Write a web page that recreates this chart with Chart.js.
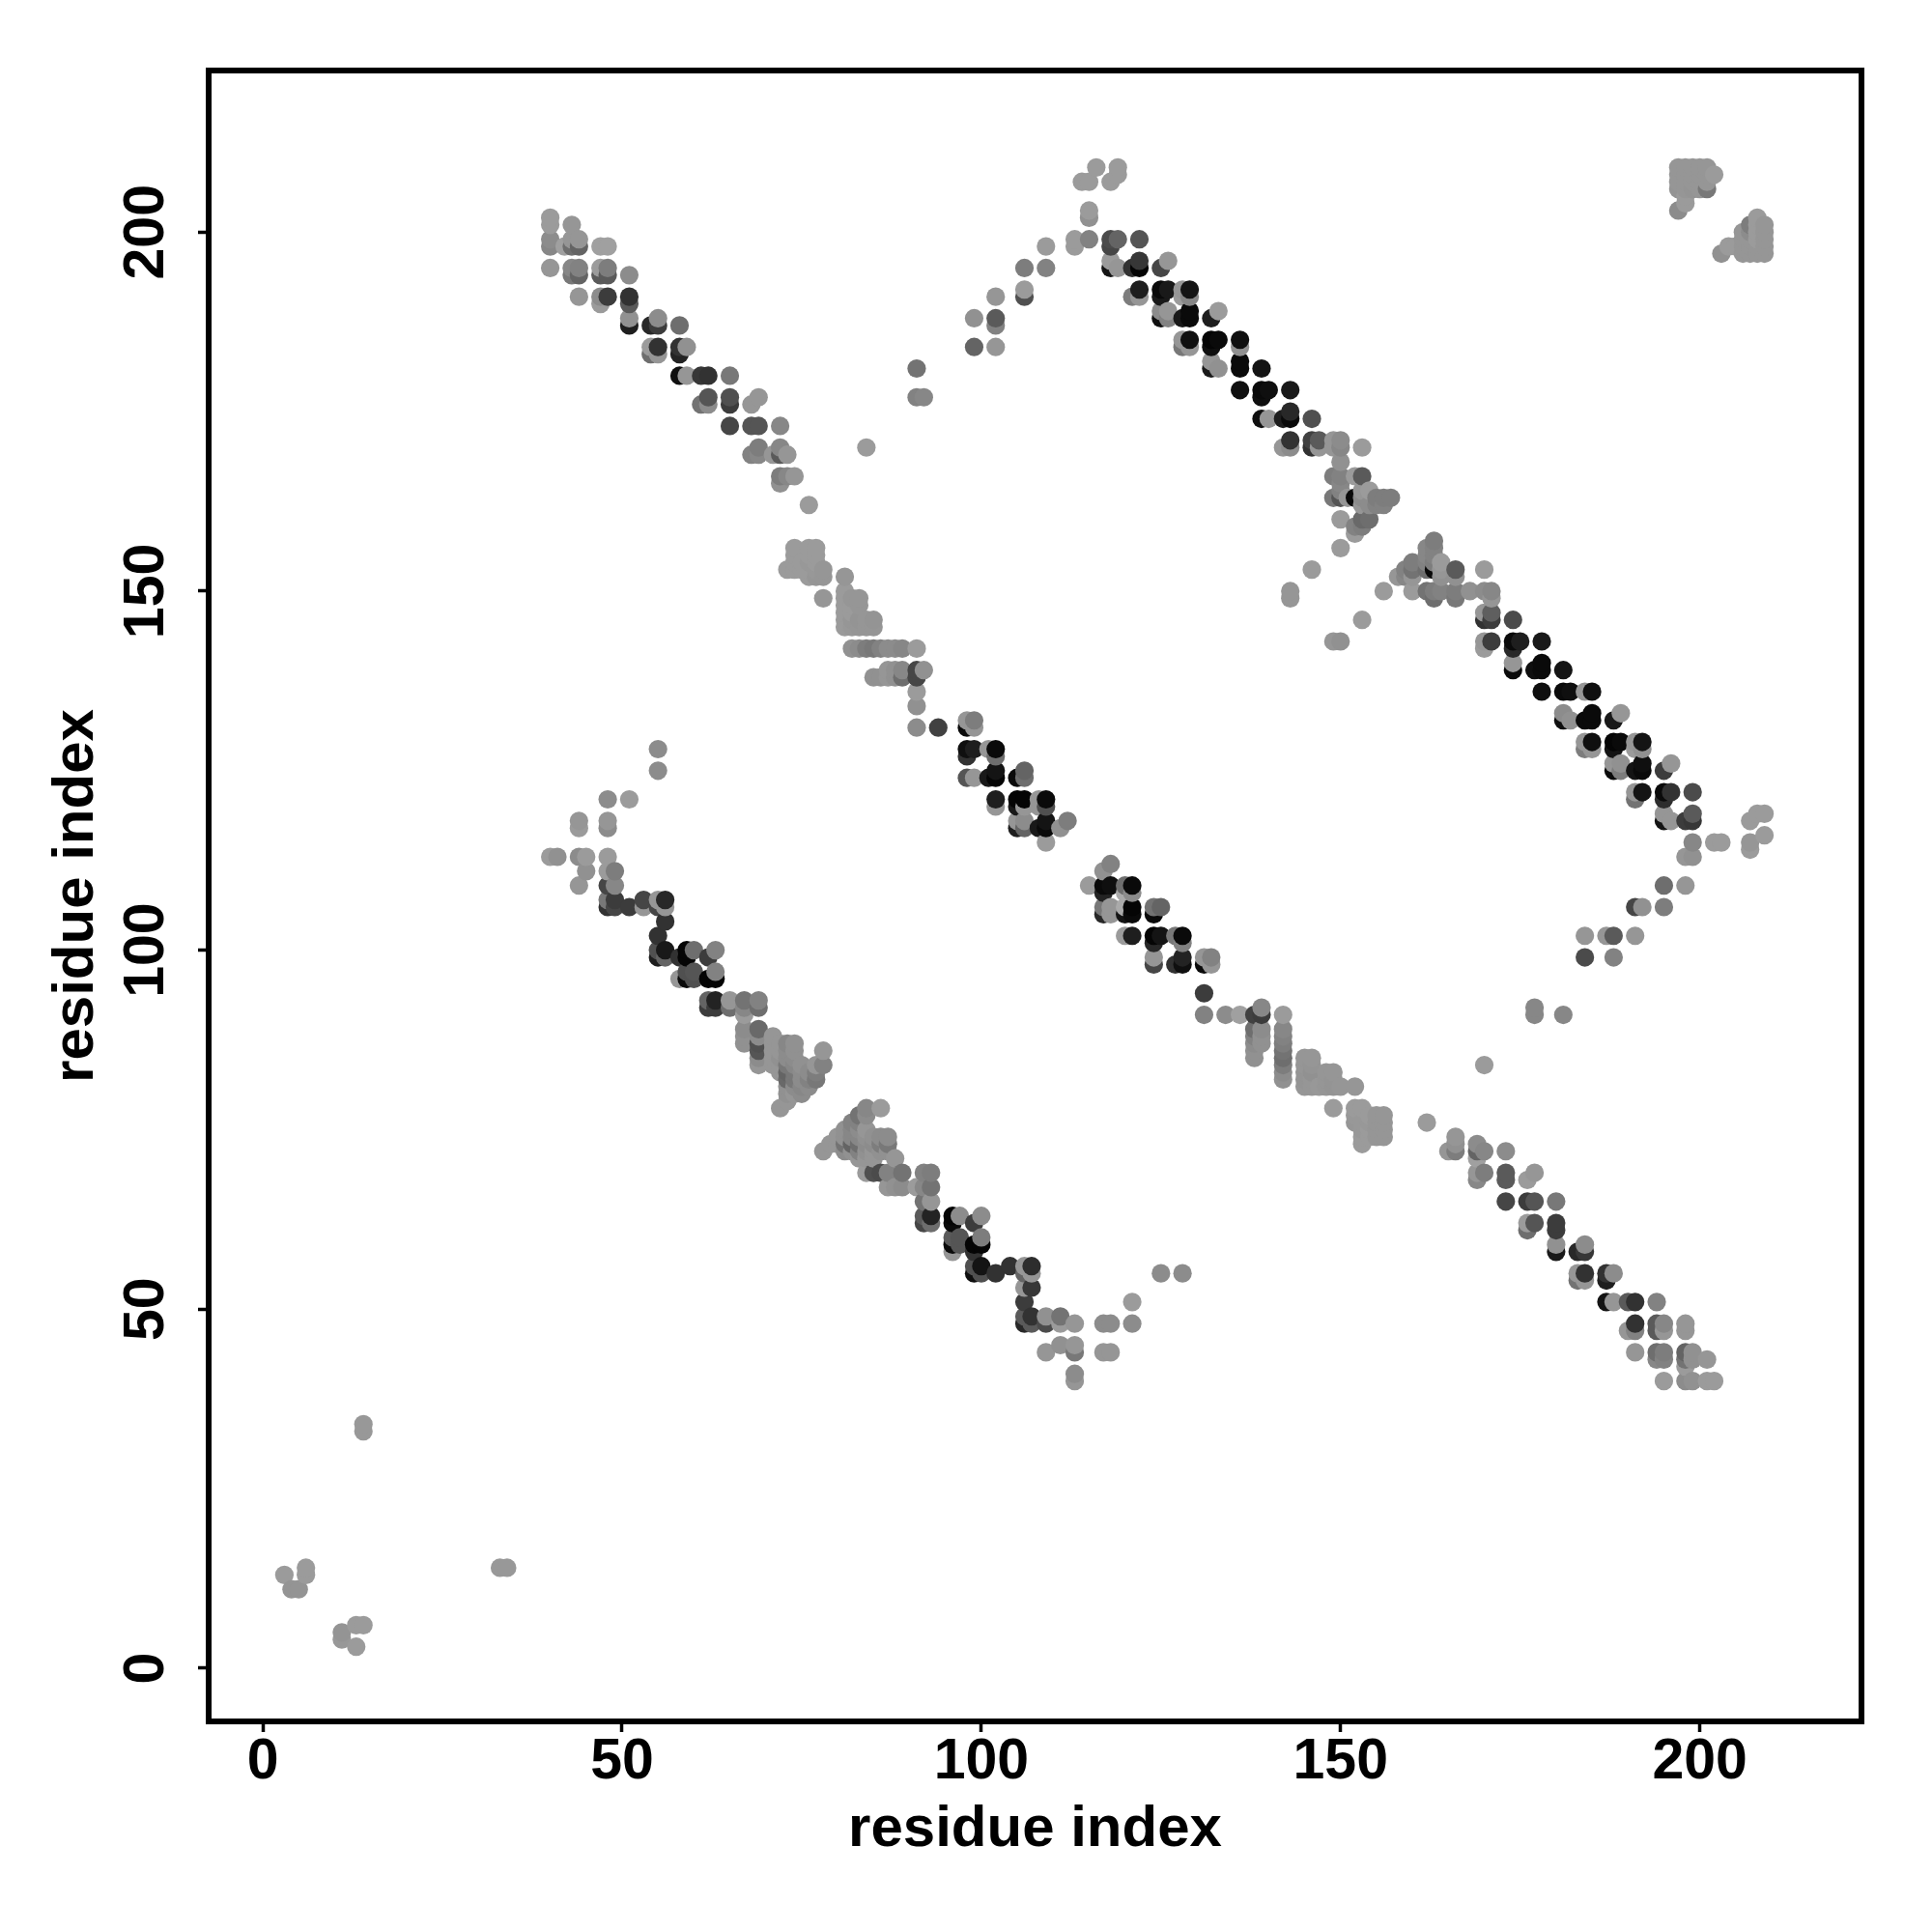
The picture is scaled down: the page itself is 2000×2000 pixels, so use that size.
<!DOCTYPE html>
<html>
<head>
<meta charset="utf-8">
<script src="https://cdn.jsdelivr.net/npm/chart.js@4"></script>
<style>
  html, body { margin: 0; padding: 0; background: #fff; }
  canvas { display: block; }
</style>
</head>
<body>
<canvas id="contactMap" width="2000" height="2000"></canvas>
<script>
// Each contact is [residue x, residue y, grey level]
let cornerContacts = [
  [3,13,155],[4,11,148],[5,11,148],[6,14,155],[6,13,155],[11,5,148],[11,4,152],[13,6,155],[14,6,155],[13,3,155],
  [14,34,152],[14,33,152],[33,14,152],[34,14,152]
];

let upperLeftArm = [
  [40,202,155],[40,201,155],[43,201,150],[40,199,140],[40,198,135],[42,198,160],[43,199,150],[43,198,110],[44,198,100],[44,199,150],
  [47,198,160],[48,198,160],[40,195,150],[43,195,135],[43,194,120],[44,194,100],[44,195,130],
  [47,195,155],[47,194,90],[48,194,90],[48,195,125],[51,194,140],[44,191,150],[47,191,140],[47,190,155],[48,191,60],
  [51,191,50],[51,190,90],[51,188,145],[51,187,30],[54,187,40],[55,187,60],[55,188,140],[58,187,110],
  [54,184,155],[54,183,110],[55,183,150],[55,184,50],[58,184,50],[58,183,35],[59,184,145],
  [58,180,15],[59,180,150],[61,180,55],[62,180,50],[65,180,120],[62,177,85],[61,176,115],[62,176,140],
  [65,177,80],[65,176,60],[68,176,150],[69,177,150],[65,173,70],[68,173,85],[69,173,85],[72,173,135],
  [69,170,125],[68,169,130],[69,169,135],[71,169,150],[72,170,135],[72,169,90],[73,169,150],[84,170,155],
  [72,166,125],[72,165,145],[73,166,135],[74,166,150],[76,162,155],
  [74,156,155],[76,156,155],[77,156,155],[74,155,155],[76,155,155],[77,155,155],[73,153,155],[74,154,155],[74,153,155],
  [75,154,155],[75,153,155],[76,154,152],[76,153,155],[76,152,155],[77,152,150],[77,153,152],[77,154,155],[78,153,150],[78,152,150],[78,149,150]
];

let middleUpperArm = [
  [81,152,150],[81,150,155],[81,149,155],[81,148,155],[81,147,155],[81,146,155],[81,145,155],
  [82,149,150],[82,148,155],[82,147,155],[82,146,150],[82,145,152],[83,149,150],[83,148,150],[83,146,148],[83,145,150],
  [84,146,150],[84,145,150],[85,146,148],[85,145,150],
  [82,142,145],[83,142,140],[84,142,125],[85,142,120],[86,142,130],[87,142,140],[88,142,140],[89,142,135],[91,142,155],
  [85,138,145],[86,138,145],[87,138,150],[88,138,145],[89,138,110],[87,139,150],[88,139,145],[89,139,135],
  [91,139,70],[91,138,70],[92,139,145],[91,136,155],[91,134,145],[91,131,140],[94,131,65],
  [98,132,150],[98,131,10],[99,132,125],[99,131,150],[98,128,15],[99,128,30],[98,127,50],[101,128,150],[102,128,10],[102,127,110],
  [98,124,85],[99,124,150],[101,124,25],[102,125,20],[102,124,5],[105,124,10],[106,124,110],[106,125,100],
  [102,121,30],[102,120,150],[105,121,5],[106,121,5],[105,120,25],[106,120,150],[108,121,150],[109,121,10],[109,120,80],[108,120,150],
  [105,118,150],[106,118,140],[105,117,30],[106,117,100],[108,117,25],[109,118,20],[109,117,10],[109,115,155],[111,117,145],[112,118,125]
];

let middleLowerArm = [
  [118,112,130],[117,111,145],[115,109,155],[117,109,10],[118,109,15],[117,108,35],[120,109,110],[121,109,10],[121,108,140],[120,108,170],
  [117,106,120],[117,105,40],[118,106,150],[118,105,150],[120,106,170],[120,105,20],[121,106,5],[121,105,10],
  [124,106,115],[125,106,100],[124,105,10],[120,102,155],[121,102,30],[124,102,5],[125,102,20],[124,101,40],
  [127,102,120],[128,102,10],[128,101,130],[124,99,150],[124,98,70],[127,98,50],[128,99,35],[128,98,15],
  [131,99,150],[132,99,130],[131,98,10],[132,98,150],[131,94,60],[131,91,130],[134,91,140],[136,91,160],
  [138,91,65],[139,91,60],[139,92,135],[142,91,155],
  [138,89,110],[138,88,130],[138,87,140],[138,86,145],[138,85,145],[139,89,140],[139,88,145],[139,87,145],
  [142,89,135],[142,88,130],[142,87,125],[142,86,115],[142,85,110],[142,84,125],[142,83,140],[142,82,145],
  [145,85,150],[145,84,150],[145,83,148],[145,82,148],[145,81,150],[146,85,150],[146,84,148],[146,83,145],[146,82,150],[146,81,150],
  [147,81,152],[148,83,150],[148,82,150],[148,81,150],[149,83,150],[149,82,148],[149,81,148],[150,81,150],[152,81,150],[149,78,155],
  [152,78,155],[153,78,155],[152,77,152],[152,76,150],[153,76,152],[153,75,152],[153,74,155],[153,73,155],[154,76,152],[154,75,155],
  [154,77,155],[154,74,155],[155,77,150],[155,76,150],[155,75,150],[155,74,150],[156,77,150],[156,76,150],[156,75,150],[156,74,150],
  [162,76,155],[166,74,150],[166,73,145],[166,72,125],[165,72,150],
  [169,73,140],[169,72,100],[169,71,160],[170,72,135],[173,72,140],[169,69,150],[169,68,135],[170,69,125],
  [173,69,90],[173,68,90],[176,68,155],[177,69,150],[173,65,70],[176,65,60],[177,65,85],[180,65,120],
  [176,62,155],[176,61,110],[177,62,85],[180,62,60],[180,61,60],[180,59,145],[180,58,25],[183,58,40],[184,58,55],[184,59,140],
  [183,55,150],[183,54,115],[184,55,50],[184,54,150],[187,55,50],[187,54,30],[188,55,140],
  [187,51,20],[188,51,150],[190,51,90],[191,51,50],[194,51,130],[191,48,50],[190,47,150],[191,47,130],
  [194,48,90],[194,47,90],[195,48,135],[195,47,150],[198,48,150],[198,47,150],[191,44,150],
  [194,44,110],[194,43,135],[195,44,125],[195,43,130],[198,44,100],[198,43,115],[198,42,155],[199,44,145],[199,43,145],[201,43,150],
  [195,40,155],[198,40,140],[199,40,145],[201,40,155],[202,40,155]
];

let upperRightArm = [
  [116,209,155],[119,209,155],[119,208,155],[118,207,155],[114,207,155],[115,207,155],[115,203,155],[115,202,145],
  [113,199,155],[113,198,155],[115,199,130],[118,199,75],[118,198,70],[119,199,100],[122,199,85],
  [118,196,155],[118,195,20],[119,195,150],[121,195,50],[122,196,55],[122,195,5],[125,195,70],[126,196,150],
  [122,192,30],[121,191,125],[122,191,150],[125,192,10],[126,192,25],[125,191,25],[128,192,150],[129,192,20],[129,191,135],[128,191,155],
  [125,189,140],[125,188,15],[126,189,150],[126,188,130],[128,188,25],[129,189,10],[129,188,10],[132,188,30],[133,189,155],
  [128,185,150],[128,184,120],[129,185,15],[129,184,150],[132,185,5],[133,185,10],[132,184,15],[136,185,15],[136,184,145],
  [132,182,150],[132,181,25],[133,181,145],[136,182,10],[136,181,10],[139,181,20],[136,178,15],[139,178,10],[140,178,15],[139,177,15],[143,178,25],
  [139,174,15],[140,174,150],[142,174,30],[143,174,10],[143,175,40],[146,174,80],
  [142,170,150],[143,171,50],[143,170,140],[146,171,65],[146,170,50],[147,171,90],[147,170,150],
  [149,171,150],[150,171,140],[150,170,135],[149,170,150],[153,170,155],[150,168,145],
  [149,166,125],[150,166,130],[152,166,155],[153,166,90],[150,165,135],[149,163,120],[150,164,130],[150,163,85],[151,163,150],
  [152,163,10],[153,164,150],[153,163,140],[154,164,155],[153,162,150],[154,162,140],[155,163,125],[156,163,125],[157,163,125],[155,162,130],[156,162,130],
  [150,160,155],[153,160,105],[154,160,110],[152,158,155],[153,159,125],[152,159,130],[150,156,155],[146,153,155],
  [153,146,155],[149,143,150],[150,143,145],[143,150,150],[143,149,150],
  [156,150,155],[160,150,155],[158,152,150],[159,153,130],[159,152,135],[160,154,125],[160,153,115],[160,152,150],
  [162,156,135],[163,157,125],[163,156,130],[162,155,135],[163,155,130],[162,154,130],[163,154,125],[162,153,110],[163,153,10],[164,154,155],[164,153,150],
  [164,152,145],[166,153,90],[166,152,145],[162,150,115],[163,150,125],[163,149,110],[164,150,130],[166,150,125],[166,149,120],[168,150,145],
  [170,153,155],[170,150,140],[171,150,135],[171,149,150],[170,147,150],[170,146,50],[171,147,95],[171,146,60],[174,146,75],
  [170,143,150],[170,142,155],[171,143,60],[174,143,10],[175,143,30],[174,142,40],[178,143,25],
  [174,140,150],[174,139,10],[177,139,15],[178,140,10],[178,139,10],[181,139,20],[178,136,15],[181,136,10],[182,136,15],[184,136,150],[185,136,15],
  [181,133,140],[181,132,15],[182,132,145],[184,132,10],[185,133,10],[185,132,10],[188,132,25],[189,133,150],
  [184,129,150],[184,128,125],[185,129,15],[185,128,150],[188,129,5],[189,129,10],[188,128,20],[191,129,150],[192,129,20],[192,128,145],[191,128,155],
  [188,126,150],[188,125,10],[189,126,145],[189,125,125],[191,125,20],[192,126,15],[192,125,10],[195,125,60],[196,126,150],
  [191,122,150],[191,121,115],[192,122,20],[195,122,10],[196,122,50],[195,121,45],[199,122,75],
  [195,119,150],[195,118,20],[196,118,150],[198,118,60],[199,119,90],[199,118,55],[199,115,135],[198,113,150],[199,113,145],
  [202,115,155],[203,115,155],[207,115,150],[207,114,155],[209,116,155],[207,118,155],[208,119,155],[209,119,155],
  [195,109,110],[198,109,150],[191,106,70],[192,106,145],[195,106,125],[184,102,150],[187,102,150],[188,102,90],[191,102,150],[184,99,75],[188,99,130],
  [177,92,135],[177,91,135],[181,91,135],[170,84,155]
];

let topRightClusters = [
  [197,209,150],[198,209,150],[199,209,150],[200,209,150],[201,209,150],[197,208,150],[198,208,150],[199,208,150],[200,208,150],[201,208,150],[202,208,155],
  [197,207,150],[198,207,150],[199,207,150],[200,207,150],[201,207,150],[197,206,148],[198,206,150],[199,206,148],[200,206,150],[201,206,120],
  [198,205,155],[198,204,155],[197,203,140],
  [203,197,145],[204,198,155],[205,198,155],[206,200,150],[206,199,150],[206,198,150],[206,197,150],[207,201,125],[207,200,140],[207,199,150],[207,198,150],[207,197,150],
  [208,202,155],[208,201,155],[208,200,155],[208,199,155],[208,198,150],[208,197,150],[209,201,150],[209,200,150],[209,199,150],[209,198,150],[209,197,150]
];

let scatteredContacts = [
  [99,184,100],[102,184,150],[99,188,145],[102,188,90],[102,187,130],[102,191,150],[91,181,115],[91,177,130],[92,177,135],
  [106,191,80],[106,192,155],[106,195,125],[109,195,130],[109,198,155]
];

let lowerLeftArm = [
  [55,128,140],[55,125,140],[48,121,140],[51,121,155],[44,118,150],[44,117,155],[48,118,150],[48,117,140],
  [40,113,155],[41,113,145],[44,113,140],[45,113,155],[45,111,145],[44,109,150],[48,113,155],[48,111,155],[49,111,125],
  [48,109,70],[49,109,135],[48,107,120],[48,106,50],[49,107,60],[49,106,70],[51,106,60],[53,107,70],[53,106,150],
  [55,107,150],[55,106,70],[56,107,40],[56,106,150],[56,104,50],[55,102,50],[55,100,80],[55,99,30],[56,100,25],[56,99,100],
  [58,99,50],[59,100,5],[59,99,5],[60,100,110],[62,99,60],[63,100,130],[58,96,150],[59,97,80],[59,96,10],[60,96,80],[60,97,85],
  [62,96,5],[63,96,5],[63,97,130],[62,93,100],[62,92,60],[63,93,35],[63,92,60],[65,93,150],[65,92,110],
  [67,93,115],[67,92,135],[69,93,130],[69,92,110],[67,91,155],[67,89,140],[67,88,145],[67,87,145],
  [69,89,105],[69,88,140],[69,87,80],[69,86,85],[69,85,140],[69,84,150],
  [71,88,150],[71,87,150],[71,86,150],[71,85,150],[71,84,150],[72,87,150],[72,86,150],[72,85,145],[72,84,150],[72,83,150],[72,78,150],
  [73,87,135],[73,86,140],[73,85,140],[73,84,120],[73,83,100],[73,82,105],[73,81,145],[73,80,145],[73,79,150],
  [74,87,145],[74,86,145],[74,85,140],[74,84,135],[74,83,120],[74,82,120],[74,81,140],[74,80,150],
  [75,84,145],[75,83,140],[75,82,140],[75,81,135],[75,80,140],[76,83,140],[76,82,130],[76,81,140],[77,84,150],[77,83,125],[77,82,120],
  [78,86,150],[78,84,130],
  [78,72,150],[79,73,150],[80,74,150],[80,73,150],[81,75,145],[81,74,145],[81,73,115],[81,72,140],[82,76,130],[82,75,135],[82,74,135],[82,73,100],[82,72,145],
  [83,77,115],[83,76,130],[83,75,140],[83,74,135],[83,73,110],[83,72,130],[83,71,150],[84,78,135],[84,77,140],[84,75,150],[84,74,145],[84,73,140],[84,72,145],[84,71,150],
  [85,74,145],[85,73,140],[85,72,150],[85,71,150],[86,78,155],[86,74,140],[86,73,125],[86,72,145],[87,74,140],[87,73,120],[87,72,145],[88,71,150],
  [84,69,155],[85,69,80],[86,69,75],[87,69,130],[89,69,115],[87,67,150],[88,67,145],[89,67,140],[91,67,155],
  [92,69,130],[93,69,125],[92,67,135],[93,67,115],[92,65,115],[93,65,150],[92,63,90],[92,62,70],[93,63,35],[93,62,110],
  [96,63,5],[96,62,10],[97,63,140],[99,62,60],[100,63,140],[96,60,90],[96,59,10],[96,58,150],[97,60,85],[97,59,85],
  [99,59,5],[100,59,5],[100,60,125],[99,58,50],[99,56,80],[99,55,15],[100,56,20],[100,55,80],[102,55,50],[104,56,50],
  [106,56,150],[107,56,45],[107,55,150],[106,55,100],[106,53,150],[107,53,55],[106,51,60],[106,49,90],[106,48,40],[107,49,50],[107,48,90],
  [109,49,145],[109,48,75],[111,49,115],[111,48,155],[113,48,150],[117,48,140],[118,48,140],[121,48,140],[121,51,155],
  [109,44,150],[111,45,145],[113,45,150],[113,44,120],[117,44,150],[118,44,150],[113,41,140],[113,40,150],[125,55,140],[128,55,140]
];

let tickValues = [0, 50, 100, 150, 200];
let axisTitle = "residue index";

// Later residues paint over earlier ones in the picture, so sort by x then y
let contacts = [].concat(cornerContacts, upperLeftArm, middleUpperArm, middleLowerArm, upperRightArm, topRightClusters, scatteredContacts, lowerLeftArm)
  .sort((a, b) => a[0] - b[0] || a[1] - b[1]);

// Frame around the plot area
let boxPlugin = {
  id: "plotBox",
  afterDatasetsDraw(chart) {
    let area = chart.chartArea;
    let ctx = chart.ctx;
    ctx.save();
    ctx.strokeStyle = "#000";
    ctx.lineWidth = 6;
    ctx.lineJoin = "miter";
    ctx.strokeRect(area.left, area.top, area.right - area.left, area.bottom - area.top);
    ctx.restore();
  }
};

function axisOptions(range, title) {
  return {
    type: "linear",
    min: range[0],
    max: range[1],
    afterBuildTicks(scale) { scale.ticks = tickValues.map((v) => ({ value: v })); },
    border: { display: false },
    grid: { drawOnChartArea: false, drawTicks: true, tickLength: 11, tickWidth: 3.5, tickColor: "#000" },
    ticks: { color: "#000", font: { family: "Liberation Sans", weight: "bold", size: 59 }, autoSkip: false, maxRotation: 0 },
    title: { display: true, text: title, color: "#000", font: { family: "Liberation Sans", weight: "bold", size: 60 } }
  };
}

let xAxis = axisOptions([-7.54, 222.5], axisTitle);
xAxis.ticks.padding = -4;
xAxis.title.padding = { top: 0, bottom: 70 };
xAxis.afterFit = (scale) => { scale.height = 218; };

let yAxis = axisOptions([-7.4, 222.5], axisTitle);
yAxis.ticks.minRotation = 90;
yAxis.ticks.maxRotation = 90;
yAxis.ticks.crossAlign = "center";
yAxis.ticks.padding = 3;
yAxis.title.padding = { top: 43, bottom: 0 };
yAxis.afterFit = (scale) => { scale.width = 216; };

new Chart(document.getElementById("contactMap").getContext("2d"), {
  type: "scatter",
  data: {
    datasets: [{
      data: contacts.map((c) => ({ x: c[0], y: c[1] })),
      pointRadius: 9.6,
      pointHoverRadius: 9.6,
      pointBorderWidth: 0,
      pointBackgroundColor: contacts.map((c) => "rgb(" + c[2] + "," + c[2] + "," + c[2] + ")")
    }]
  },
  options: {
    responsive: false,
    animation: false,
    devicePixelRatio: 1,
    layout: { padding: { left: 0, top: 73, right: 73, bottom: 0 } },
    plugins: { legend: { display: false }, tooltip: { enabled: false } },
    scales: { x: xAxis, y: yAxis }
  },
  plugins: [boxPlugin]
});
</script>
</body>
</html>
